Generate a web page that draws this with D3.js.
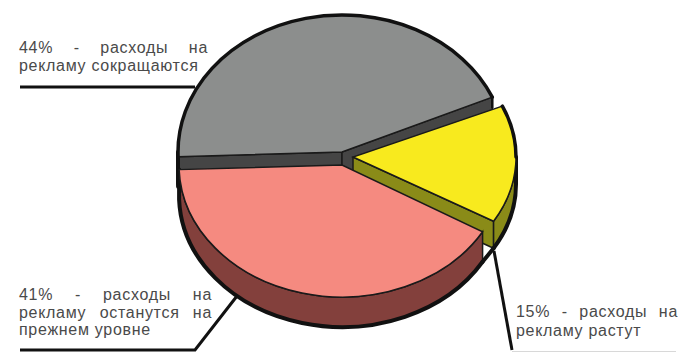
<!DOCTYPE html>
<html lang="ru">
<head>
<meta charset="utf-8">
<style>
  html, body { margin: 0; background: #fff; }
  svg { display: block; }
  text { font-family: "Liberation Sans", Arial, sans-serif; font-size: 16px; letter-spacing: 0.7px; fill: #4a4a4a; }
</style>
</head>
<body>
<svg id="chart" width="684" height="352"></svg>
<script src="https://cdn.jsdelivr.net/npm/d3@7"></script>
<script>
// Survey shares, in the order they run clockwise round the pie
const categories = ["сокращаются", "растут", "останутся"];
const shares = [44, 15, 41];
const topColors = ["#8c8e8d", "#f8ea1e", "#f58a80"];
const wallColors = ["#454545", "#8a8b18", "#83403c"];
const labelLines = [
  ["44% - расходы на", "рекламу сокращаются"],
  ["15% - расходы на", "рекламу растут"],
  ["41% - расходы на", "рекламу останутся на", "прежнем уровне"]
];

const svg = d3.select("#chart");
const deg = Math.PI / 180;
const heavy = "#111";
const slicesGeom = [
  { cx: 342, cy: 152, rx: 164, ry: 137, depth: 30 },
  { cx: 353, cy: 157, rx: 163, ry: 127, depth: 27 },
  { cx: 342, cy: 165, rx: 163, ry: 132, depth: 30 }
];

const pie = d3.pie().sort(null).startAngle(-92 * deg).endAngle(268 * deg);
const arcs = pie(shares);

function pt(g, a, dy = 0) {
  return [g.cx + g.rx * Math.sin(a), g.cy - g.ry * Math.cos(a) + dy];
}
function rimPath(g, a0, a1, dy = 0) {
  const [x0, y0] = pt(g, a0, dy), [x1, y1] = pt(g, a1, dy);
  return `M${x0},${y0}A${g.rx},${g.ry} 0 ${a1 - a0 > Math.PI ? 1 : 0} 1 ${x1},${y1}`;
}
function heavyLine(group, d, width = 4) {
  group.append("path").attr("d", d).attr("fill", "none")
    .attr("stroke", heavy).attr("stroke-width", width)
    .attr("stroke-linecap", "round").attr("stroke-linejoin", "round");
}

const arcGen = d3.arc().innerRadius(0);

arcs.forEach((d, i) => {
  const g = slicesGeom[i];
  const a0 = d.startAngle, a1 = d.endAngle;
  const group = svg.append("g");

  // Cut faces: only the radial edges that turn towards the viewer
  [[a0, Math.sin(a0) < 0], [a1, Math.sin(a1) > 0]].forEach(([a, visible]) => {
    if (!visible) return;
    const p = pt(g, a), q = pt(g, a, g.depth);
    group.append("path")
      .attr("d", `M${g.cx},${g.cy}L${p}L${q}L${g.cx},${g.cy + g.depth}Z`)
      .attr("fill", wallColors[i]).attr("stroke", "#1a1a1a").attr("stroke-width", 1.5)
      .attr("stroke-linejoin", "round");
  });

  // Outer wall along the front half of the ellipse
  const start = a0 < 0 ? a0 + 2 * Math.PI : a0;
  const end = a0 < 0 ? a1 + 2 * Math.PI : a1;
  const w0 = Math.max(start, 90 * deg), w1 = Math.min(end, 270 * deg);
  if (w1 > w0) {
    const [xe, ye] = pt(g, w1, g.depth), [xs, ys] = pt(g, w0);
    const [xq, yq] = pt(g, w1);
    group.append("path")
      .attr("d", `${rimPath(g, w0, w1)}L${xe},${ye}A${g.rx},${g.ry} 0 0 0 ${xs},${ys + g.depth}Z`)
      .attr("fill", wallColors[i]).attr("stroke", "#1a1a1a").attr("stroke-width", 1.5);
    // Heavy silhouette under the wall, closed upward where it reaches the pie's side
    const isLeftEnd = w1 > 180 * deg;
    const lead = isLeftEnd ? `M${xq},${yq}L${xe},${ye}` : `M${xe},${ye}`;
    const tail = isLeftEnd ? "" : `L${xs},${ys}`;
    heavyLine(group, `${lead}A${g.rx},${g.ry} 0 0 0 ${xs},${ys + g.depth}${tail}`);
  }

  // Top face, squashed into an ellipse
  group.append("path")
    .attr("d", arcGen.outerRadius(g.rx)(d))
    .attr("transform", `translate(${g.cx},${g.cy}) scale(1,${g.ry / g.rx})`)
    .attr("vector-effect", "non-scaling-stroke")
    .attr("fill", topColors[i]).attr("stroke", "#1a1a1a").attr("stroke-width", 1.5);

  // Back part of the top rim carries the heavy outline
  if (i === 0) {
    heavyLine(group, rimPath(g, a0, a1), 3.5);
    const [xa, ya] = pt(g, a1);
    heavyLine(group, `M${xa},${ya}L${xa},${ya + 10}`, 2.5);
  }
  if (i === 1) {
    heavyLine(group, rimPath(g, start, 90 * deg), 3.5);
  }
  // The bottom edge runs on from the pink wall to the foot of the yellow slice
  if (i === 2) {
    const from = pt(g, a0, g.depth);
    const to = pt(slicesGeom[1], arcs[1].endAngle, slicesGeom[1].depth);
    heavyLine(group, `M${from}L${to}`);
  }
});

// Leader lines from the slices out to their captions
const leaders = [
  [[20, 87], [195, 87]],
  [[494, 251], [512, 350]],
  [[20, 350], [195, 350], [237, 296]]
];
const lineGen = d3.line();
leaders.forEach(l => {
  svg.append("path").attr("d", lineGen(l)).attr("fill", "none")
    .attr("stroke", heavy).attr("stroke-width", 3).attr("stroke-linejoin", "miter");
});
svg.append("path").attr("d", lineGen([[512, 351.5], [676, 351.5]]))
  .attr("fill", "none").attr("stroke", "#d8d8d8").attr("stroke-width", 1);

// Captions; lines that fill the column are justified by widening the word gaps
const captionBoxes = [
  { x: 19, y: 53, width: 189, step: 18, justified: [true, false] },
  { x: 516, y: 317, width: 162, step: 19, justified: [true, false] },
  { x: 19, y: 300, width: 193, step: 17.5, justified: [true, true, false] }
];
labelLines.forEach((lines, i) => {
  const box = captionBoxes[i];
  lines.forEach((line, k) => {
    const t = svg.append("text").attr("x", box.x).attr("y", box.y + k * box.step).text(line);
    if (box.justified[k]) {
      const gaps = line.split(" ").length - 1;
      const extra = (box.width - t.node().getComputedTextLength()) / gaps;
      t.attr("word-spacing", extra);
    }
  });
});
</script>
</body>
</html>
